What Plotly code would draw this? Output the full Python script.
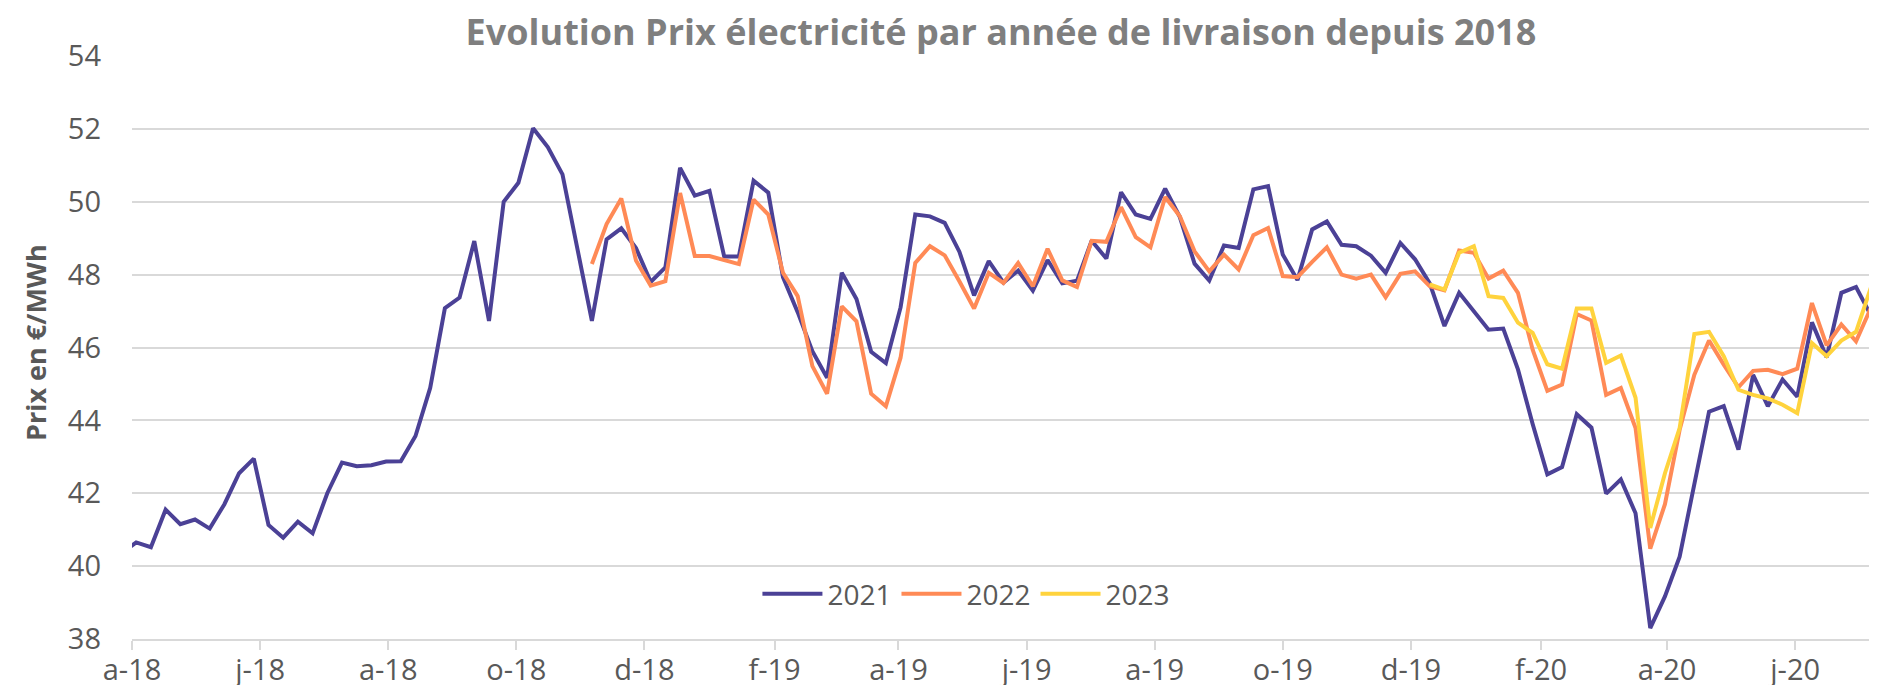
import pandas as pd
import plotly.graph_objects as go

# Weekly observation dates (first one falls just before the visible axis start)
dates = pd.date_range("2018-03-27", periods=121, freq="7D")

# Cal 2021 prices (EUR/MWh), one value per weekly date
cal_2021 = [
    40.35, 40.65, 40.52, 41.55, 41.15, 41.28, 41.03, 41.70, 42.55, 42.95,
    41.13, 40.78, 41.22, 40.90, 42.00, 42.84, 42.74, 42.77, 42.87, 42.88,
    43.57, 44.89, 47.08, 47.37, 48.92, 46.73, 50.00, 50.52, 52.02, 51.50,
    50.75, 48.70, 46.73, 48.97, 49.27, 48.73, 47.80, 48.20, 50.93, 50.17,
    50.30, 48.50, 48.50, 50.58, 50.25, 47.93, 46.97, 45.90, 45.17, 48.05,
    47.33, 45.88, 45.57, 47.10, 49.65, 49.60, 49.42, 48.63, 47.43, 48.37,
    47.78, 48.11, 47.56, 48.40, 47.76, 47.83, 48.93, 48.44, 50.26, 49.65,
    49.53, 50.36, 49.58, 48.30, 47.84, 48.80, 48.73, 50.34, 50.43, 48.55,
    47.85, 49.24, 49.46, 48.82, 48.78, 48.52, 48.05, 48.87, 48.42, 47.76,
    46.59, 47.50, 46.99, 46.49, 46.52, 45.40, 43.90, 42.52, 42.72, 44.17,
    43.80, 41.99, 42.38, 41.45, 38.30, 39.17, 40.26, 42.26, 44.24, 44.39,
    43.20, 45.25, 44.39, 45.12, 44.65, 46.69, 45.73, 47.50, 47.66, 46.89,
    46.93,
]

# Cal 2022 prices, starting at the 33rd weekly date
start_2022 = 32
cal_2022 = [
    48.29, 49.39, 50.09, 48.39, 47.70, 47.82, 50.24, 48.51, 48.51, 48.41,
    48.29, 50.06, 49.65, 48.05, 47.41, 45.49, 44.73, 47.13, 46.72, 44.73,
    44.39, 45.72, 48.32, 48.78, 48.53, 47.82, 47.07, 48.05, 47.77, 48.32,
    47.68, 48.71, 47.84, 47.66, 48.93, 48.90, 49.85, 49.03, 48.75, 50.13,
    49.60, 48.64, 48.09, 48.55, 48.14, 49.08, 49.28, 47.96, 47.93, 48.35,
    48.75, 48.00, 47.89, 48.00, 47.38, 48.02, 48.09, 47.68, 47.57, 48.66,
    48.60, 47.89, 48.11, 47.50, 45.94, 44.81, 44.98, 46.92, 46.74, 44.70,
    44.89, 43.79, 40.48, 41.70, 43.74, 45.25, 46.19, 45.53, 44.91, 45.36,
    45.39, 45.27, 45.42, 47.22, 46.06, 46.63, 46.17, 47.08, 47.52,
]

# Cal 2023 prices, starting at the 90th weekly date
start_2023 = 89
cal_2023 = [
    47.73, 47.59, 48.60, 48.78, 47.41, 47.36, 46.68, 46.40, 45.54, 45.42,
    47.07, 47.07, 45.58, 45.78, 44.62, 41.05, 42.55, 43.79, 46.37, 46.43,
    45.76, 44.84, 44.70, 44.60, 44.43, 44.20, 46.12, 45.76, 46.19, 46.43,
    47.63, 48.12,
]

tick_dates = ["2018-04-01", "2018-06-01", "2018-08-01", "2018-10-01", "2018-12-01",
              "2019-02-01", "2019-04-01", "2019-06-01", "2019-08-01", "2019-10-01",
              "2019-12-01", "2020-02-01", "2020-04-01", "2020-06-01"]
tick_labels = ["a-18", "j-18", "a-18", "o-18", "d-18", "f-19", "a-19", "j-19",
               "a-19", "o-19", "d-19", "f-20", "a-20", "j-20"]

series_names = ["2021", "2022", "2023"]
colors = ["#4b4196", "#ff8a56", "#ffd33d"]

FONT = "Open Sans"
TXT = "#595959"
GRID = "#d9d9d9"

fig = go.Figure()
fig.add_trace(go.Scatter(x=dates, y=cal_2021, mode="lines", name=series_names[0],
                         line=dict(color=colors[0], width=4)))
fig.add_trace(go.Scatter(x=dates[start_2022:start_2022 + len(cal_2022)], y=cal_2022,
                         mode="lines", name=series_names[1],
                         line=dict(color=colors[1], width=4)))
fig.add_trace(go.Scatter(x=dates[start_2023:start_2023 + len(cal_2023)], y=cal_2023,
                         mode="lines", name=series_names[2],
                         line=dict(color=colors[2], width=4)))

fig.update_layout(
    width=1877, height=685,
    margin=dict(l=124, r=0, t=48, b=54),
    paper_bgcolor="white", plot_bgcolor="white",
    font=dict(family=FONT, color=TXT),
    title=dict(text="<b>Evolution Prix électricité par année de livraison depuis 2018</b>",
               x=0.529, xanchor="center", xref="container",
               y=0.965, yanchor="middle", yref="container",
               font=dict(family=FONT, size=36, color="#7f7f7f")),
    showlegend=True,
    legend=dict(orientation="h", x=0.476, xanchor="center", y=0.077, yanchor="middle",
                font=dict(family=FONT, size=28, color=TXT),
                bgcolor="rgba(0,0,0,0)", itemwidth=60, tracegroupgap=0),
    xaxis=dict(
        type="date",
        range=["2018-04-01", "2020-07-13 19:00"],
        tickmode="array", tickvals=tick_dates, ticktext=tick_labels,
        ticks="outside", ticklen=9, tickwidth=2, tickcolor=GRID,
        showline=True, linecolor=GRID, linewidth=2,
        showgrid=False, zeroline=False,
        tickfont=dict(family=FONT, size=29, color=TXT),
        ticklabelstandoff=-5,
    ),
    yaxis=dict(
        range=[38, 54], tickmode="array", tickvals=list(range(38, 55, 2)),
        showgrid=True, gridcolor=GRID, gridwidth=2,
        zeroline=False, showline=False, ticks="",
        tickfont=dict(family=FONT, size=29, color=TXT),
        ticklabelstandoff=30,
    ),
    annotations=[dict(
        text="<b>Prix en €/MWh</b>", textangle=-90, showarrow=False,
        xref="paper", x=(27 - 124) / 1753, xanchor="center",
        yref="paper", y=(631 - 335) / 583, yanchor="middle",
        font=dict(family=FONT, size=27, color=TXT),
    )],
)

fig.write_html("out.html")
